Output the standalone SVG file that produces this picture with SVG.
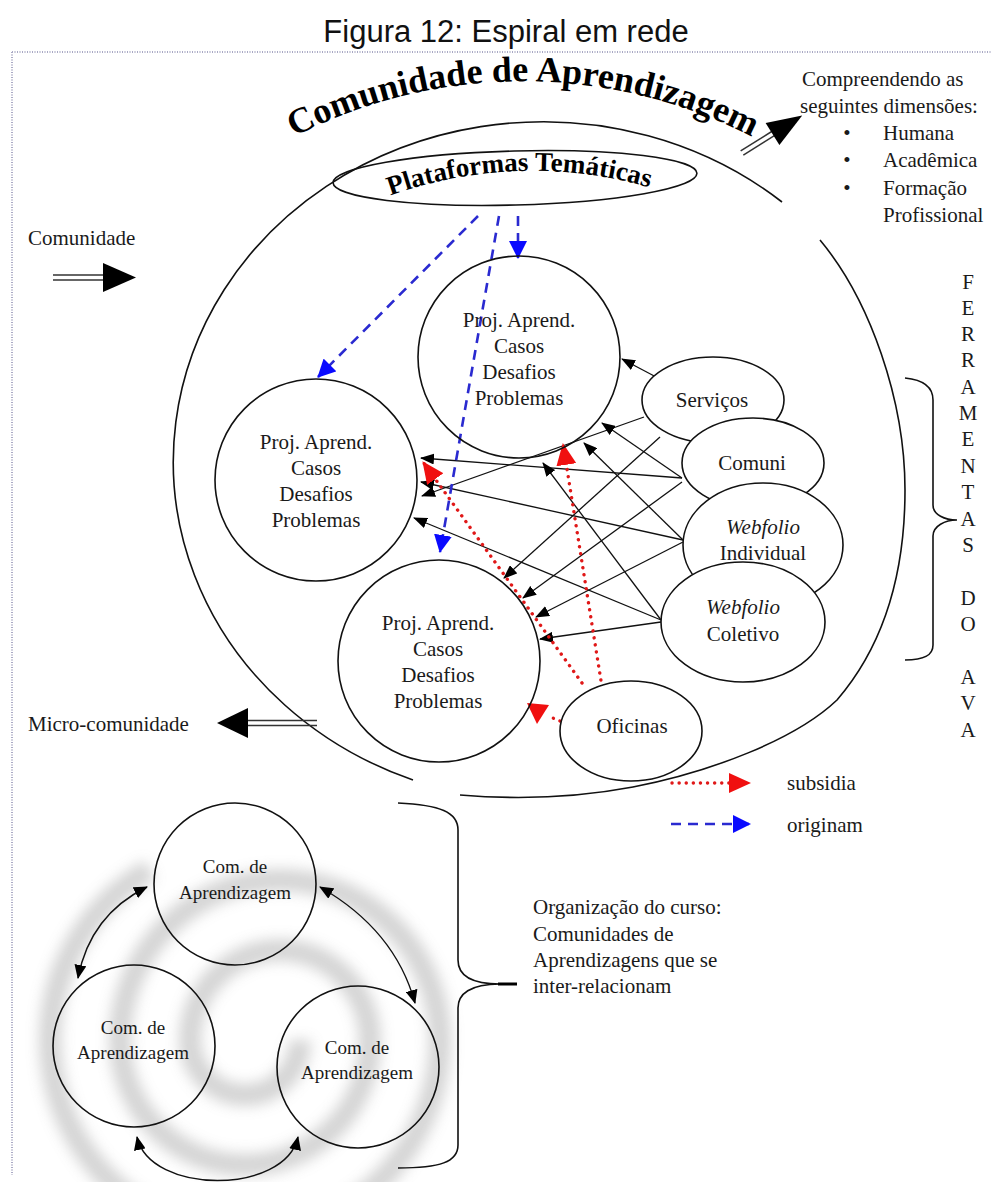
<svg xmlns="http://www.w3.org/2000/svg" width="991" height="1182" viewBox="0 0 991 1182">
<style>
.t{font-family:"Liberation Serif","Times New Roman",serif;font-size:21px;fill:#1a1a1a}
.c{text-anchor:middle}
.s{font-family:"Liberation Serif","Times New Roman",serif;font-size:19px;fill:#1a1a1a;text-anchor:middle}
.ln{fill:none;stroke:#111;stroke-width:1.6}
.nd{fill:none;stroke:#111;stroke-width:1.6}
.el{fill:#fff;stroke:#111;stroke-width:1.6}
.bk{fill:none;stroke:#111;stroke-width:1.3;marker-end:url(#ah)}
.bl{fill:none;stroke:#2a2ad0;stroke-width:2.6;stroke-dasharray:10 7;marker-end:url(#bh)}
.rd{fill:none;stroke:#e01818;stroke-width:3.4;stroke-dasharray:0.1 7;stroke-linecap:round;marker-end:url(#rh)}
.bi{fill:none;stroke:#111;stroke-width:1.4;marker-start:url(#sh);marker-end:url(#sh)}
</style>
<defs>
<marker id="ah" markerUnits="userSpaceOnUse" markerWidth="14" markerHeight="11" refX="13" refY="5.5" orient="auto"><path d="M0,0 L14,5.5 L0,11 z" fill="#000"/></marker>
<marker id="bh" markerUnits="userSpaceOnUse" markerWidth="18" markerHeight="18" refX="17" refY="9" orient="auto"><path d="M0,0 L18,9 L0,18 z" fill="#0a0aff"/></marker>
<marker id="rh" markerUnits="userSpaceOnUse" markerWidth="22" markerHeight="20" refX="21" refY="10" orient="auto"><path d="M0,0 L22,10 L0,20 z" fill="#f01010"/></marker>
<marker id="sh" markerUnits="userSpaceOnUse" markerWidth="14" markerHeight="12" refX="13" refY="6" orient="auto-start-reverse"><path d="M0,0 L14,6 L0,12 z" fill="#000"/></marker>
<filter id="blur" x="-20%" y="-20%" width="140%" height="140%"><feGaussianBlur stdDeviation="7"/></filter>
<path id="arcTitle" d="M 288,140 A 500 500 0 0 1 758,140"/>
<path id="arcPlat" d="M 376,201 A 420 420 0 0 1 664,192"/>
</defs>

<rect x="0" y="0" width="991" height="1182" fill="#fff"/>

<!-- title -->
<text x="506" y="42" font-family="Liberation Sans, Arial, sans-serif" font-size="31" fill="#111" text-anchor="middle">Figura 12: Espiral em rede</text>

<!-- frame -->
<g id="frame" stroke="#a9a9c4" stroke-width="2" stroke-dasharray="1 1.5" fill="none">
<line x1="12" y1="52" x2="991" y2="52"/>
<line x1="12" y1="52" x2="12" y2="1175"/>
</g>

<!-- gray spiral background -->
<g id="spiral" filter="url(#blur)" opacity="0.42">
<path d="M 300,1040 A 55 55 0 0 1 190,1040 A 90 90 0 0 1 370,1040 A 125 125 0 0 1 120,1040 A 160 160 0 0 1 440,1040 A 195 195 0 0 1 50,1040 A 195 195 0 0 1 150,870" fill="none" stroke="#9a9a9a" stroke-width="22"/>
</g>

<!-- outer spiral arcs -->
<g id="outer">
<path class="ln" d="M 782,202 A 370 340 0 1 0 413,780"/>
<path class="ln" d="M 820,240 C 870,300 905,400 905,490 C 905,580 880,650 837,700 C 795,740 710,772 633,787 C 580,797 520,800 460,795"/>
</g>

<!-- title curved -->
<g id="titulo">
<text font-family="Liberation Serif, Times New Roman, serif" font-weight="bold" font-size="36" fill="#000"><textPath href="#arcTitle" startOffset="50%" text-anchor="middle">Comunidade de Aprendizagem</textPath></text>
</g>

<!-- Plataformas -->
<g id="plataformas">
<ellipse class="nd" cx="515" cy="178" rx="182" ry="27" transform="rotate(-1.5 515 178)"/>
<text font-family="Liberation Serif, Times New Roman, serif" font-weight="bold" font-size="27" fill="#000"><textPath href="#arcPlat" startOffset="50%" text-anchor="middle">Plataformas Temáticas</textPath></text>
</g>

<!-- side labels & thick arrows -->
<g id="comunidade">
<text class="t" x="28" y="245">Comunidade</text>
<g stroke="#333" stroke-width="1.5"><line x1="53" y1="275" x2="104" y2="275"/><line x1="53" y1="280" x2="104" y2="280"/></g>
<polygon points="103,263 136,277.5 103,292" fill="#000"/>
</g>
<g id="micro">
<text class="t" x="28" y="731">Micro-comunidade</text>
<g stroke="#333" stroke-width="1.5"><line x1="246" y1="720.5" x2="317" y2="720.5"/><line x1="246" y1="725.5" x2="317" y2="725.5"/></g>
<polygon points="248,708 217,723 248,738" fill="#000"/>
</g>
<g id="dimensoes">
<g transform="translate(742,153) rotate(-32)">
<g stroke="#333" stroke-width="1.5"><line x1="0" y1="-2.5" x2="38" y2="-2.5"/><line x1="0" y1="2.5" x2="38" y2="2.5"/></g>
<polygon points="36,-13 71,0 36,13" fill="#000"/>
</g>
<text class="t" x="802" y="86">Compreendendo as</text>
<text class="t" x="800" y="113">seguintes dimensões:</text>
<text class="t c" x="847" y="140">•</text>
<text class="t c" x="847" y="167">•</text>
<text class="t c" x="847" y="195">•</text>
<text class="t" x="883" y="140">Humana</text>
<text class="t" x="883" y="167">Acadêmica</text>
<text class="t" x="883" y="195">Formação</text>
<text class="t" x="883" y="222">Profissional</text>
</g>

<!-- connectors -->
<g id="connectors">
<line class="bk" x1="658" y1="378" x2="622" y2="359"/>
<line class="bk" x1="644" y1="417" x2="422" y2="496"/>
<line class="bk" x1="660" y1="437" x2="504" y2="578"/>
<line class="bk" x1="682" y1="478" x2="602" y2="423"/>
<line class="bk" x1="682" y1="478" x2="421" y2="458"/>
<line class="bk" x1="682" y1="482" x2="523" y2="598"/>
<line class="bk" x1="683" y1="540" x2="584" y2="443"/>
<line class="bk" x1="683" y1="540" x2="421" y2="482"/>
<line class="bk" x1="683" y1="542" x2="536" y2="617"/>
<line class="bk" x1="661" y1="620" x2="543" y2="463"/>
<line class="bk" x1="661" y1="620" x2="414" y2="518"/>
<line class="bk" x1="661" y1="622" x2="540" y2="639"/>
<line class="bl" x1="478" y1="216" x2="318" y2="377"/>
<line class="bl" x1="499" y1="216" x2="440" y2="552"/>
<line class="bl" x1="518" y1="216" x2="518" y2="258"/>
<line class="rd" x1="602" y1="687" x2="563" y2="444"/>
<line class="rd" x1="582" y1="683" x2="423" y2="462"/>
<line stroke="#e01818" stroke-width="3.4" stroke-dasharray="0.1 7" stroke-linecap="round" x1="560" y1="721" x2="548" y2="716"/>
<polygon points="527,703 549,705 537,724" fill="#f01010"/>
<path class="bi" d="M 147,887 Q 90,915 78,978"/>
<path class="bi" d="M 320,887 Q 395,930 415,1003"/>
<path class="bi" d="M 137,1137 C 150,1195 285,1195 298,1137"/>
</g>

<!-- Proj circles -->
<g id="projUp">
<circle class="nd" cx="519" cy="357" r="101"/>
<text class="t c" x="519" y="327">Proj. Aprend.</text>
<text class="t c" x="519" y="353">Casos</text>
<text class="t c" x="519" y="379">Desafios</text>
<text class="t c" x="519" y="405">Problemas</text>
</g>
<g id="projLeft">
<circle class="nd" cx="316" cy="480" r="101"/>
<text class="t c" x="316" y="449">Proj. Aprend.</text>
<text class="t c" x="316" y="475">Casos</text>
<text class="t c" x="316" y="501">Desafios</text>
<text class="t c" x="316" y="527">Problemas</text>
</g>
<g id="projDown">
<circle class="nd" cx="439" cy="661" r="101"/>
<text class="t c" x="438" y="630">Proj. Aprend.</text>
<text class="t c" x="438" y="656">Casos</text>
<text class="t c" x="438" y="682">Desafios</text>
<text class="t c" x="438" y="708">Problemas</text>
</g>

<!-- tools -->
<g id="servicos"><ellipse class="el" cx="713" cy="400" rx="71" ry="43"/></g>
<g id="comuni"><ellipse class="el" cx="753" cy="463" rx="71" ry="45"/></g>
<g id="webInd"><ellipse class="el" cx="763" cy="545" rx="80" ry="62"/></g>
<g id="webCol"><ellipse class="el" cx="743" cy="622" rx="82" ry="60"/></g>
<g id="oficinas"><ellipse class="el" cx="631" cy="731" rx="71" ry="50"/><text class="t c" x="632" y="733">Oficinas</text></g>
<g id="toolLabels">
<text class="t c" x="712" y="407">Serviços</text>
<text class="t c" x="752" y="470">Comuni</text>
<text class="t c" x="763" y="534" font-style="italic">Webfolio</text>
<text class="t c" x="763" y="560">Individual</text>
<text class="t c" x="743" y="614" font-style="italic">Webfolio</text>
<text class="t c" x="743" y="641">Coletivo</text>
</g>

<!-- brace + vertical text -->
<g id="ferramentas">
<path class="ln" d="M 905,378 C 925,380 933,388 933,400 L 933,505 C 933,515 945,520 957,520 C 945,520 933,526 933,536 L 933,645 C 933,655 925,660 905,660"/>
<g class="t c" font-size="20">
<text x="968" y="289">F</text>
<text x="968" y="315">E</text>
<text x="968" y="341">R</text>
<text x="968" y="367">R</text>
<text x="968" y="394">A</text>
<text x="968" y="420">M</text>
<text x="968" y="446">E</text>
<text x="968" y="473">N</text>
<text x="968" y="499">T</text>
<text x="968" y="526">A</text>
<text x="968" y="552">S</text>
<text x="968" y="605">D</text>
<text x="968" y="631">O</text>
<text x="968" y="684">A</text>
<text x="968" y="710">V</text>
<text x="968" y="737">A</text>
</g>
</g>

<!-- legend -->
<g id="legenda">
<line class="rd" x1="672" y1="783" x2="750" y2="783"/>
<text class="t" x="787" y="790">subsidia</text>
<line class="bl" x1="671" y1="824" x2="750" y2="824" stroke-dasharray="9 6"/>
<text class="t" x="787" y="832">originam</text>
</g>

<!-- bottom communities -->
<g id="comTop">
<circle class="nd" cx="235" cy="884" r="81"/>
<text class="s" x="235" y="873">Com. de</text>
<text class="s" x="235" y="899">Aprendizagem</text>
</g>
<g id="comLeft">
<circle class="nd" cx="134" cy="1046" r="81"/>
<text class="s" x="133" y="1034">Com. de</text>
<text class="s" x="133" y="1059">Aprendizagem</text>
</g>
<g id="comRight">
<circle class="nd" cx="358" cy="1067" r="81"/>
<text class="s" x="357" y="1054">Com. de</text>
<text class="s" x="357" y="1079">Aprendizagem</text>
</g>

<g id="organizacao">
<path class="ln" d="M 398,803 C 440,805 458,812 458,830 L 458,960 C 458,975 470,984 500,984 C 470,984 458,994 458,1008 L 458,1145 C 458,1162 440,1168 398,1168"/>
<line x1="498" y1="984" x2="517" y2="984" stroke="#000" stroke-width="3"/>
<text class="t" x="533" y="914">Organização do curso:</text>
<text class="t" x="533" y="941">Comunidades de</text>
<text class="t" x="533" y="967">Aprendizagens que se</text>
<text class="t" x="533" y="993">inter-relacionam</text>
</g>
</svg>
